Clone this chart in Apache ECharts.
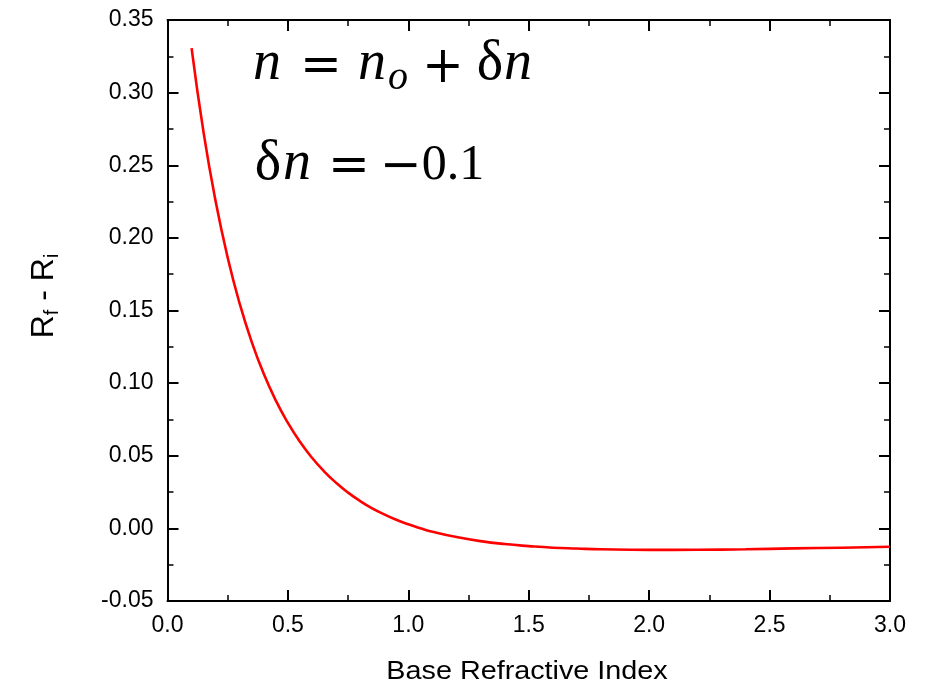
<!DOCTYPE html>
<html><head><meta charset="utf-8">
<script src="https://cdn.jsdelivr.net/npm/echarts@6/dist/echarts.min.js"></script>
<style>html,body{margin:0;padding:0;background:#fff}#c{width:930px;height:683px}</style>
</head><body><div id="c"></div>
<script>
const baseIndex = [0.10,0.15,0.20,0.25,0.30,0.35,0.40,0.45,0.50,0.55,0.60,0.65,0.70,0.75,0.80,0.85,0.90,0.95,1.00,1.05,1.10,1.20,1.30,1.40,1.50,1.60,1.70,1.80,2.00,2.20,2.40,2.60,2.80,3.00];
const deltaR = [0.3306,0.2723,0.2250,0.1863,0.1545,0.1282,0.1062,0.0879,0.0726,0.0596,0.0486,0.0393,0.0314,0.0246,0.0188,0.0138,0.0096,0.0059,0.0028,0.0001,-0.0023,-0.0060,-0.0088,-0.0108,-0.0122,-0.0133,-0.0139,-0.0144,-0.0148,-0.0147,-0.0144,-0.0138,-0.0133,-0.0127];
const xTicks = [0,0.5,1,1.5,2,2.5,3];
const yTicks = [-0.05,0,0.05,0.1,0.15,0.2,0.25,0.3,0.35];
const xTitle = 'Base Refractive Index';
const eq1 = ['n','=','n','o','+','δ','n'];
const eq2 = ['δ','n','=','−','0.1'];

const chart = echarts.init(document.getElementById('c'));
const axisCommon = {
  axisLine:{show:true,onZero:false,lineStyle:{color:'#000',width:2}},
  axisTick:{show:true,inside:true,length:11,lineStyle:{color:'#000',width:2}},
  minorTick:{show:true,splitNumber:2,length:6,lineStyle:{color:'#000',width:1.5}},
  splitLine:{show:false}
};
const serifI = {fontFamily:'Liberation Serif',fontStyle:'italic',fill:'#000'};
const serifU = {fontFamily:'Liberation Serif',fill:'#000'};
const opF = {fontFamily:'DejaVu Serif',fill:'#000'};
function t(txt, x, y, base, size, extra){
  return {type:'text',x:x,y:y,silent:true,
    style:Object.assign({},base,{text:txt,fontSize:size,textAlign:'center',textVerticalAlign:'middle'},extra||{})};
}
chart.setOption({
  animation:false,
  backgroundColor:'#fff',
  grid:{left:167.5,top:20,right:40,bottom:82,containLabel:false},
  xAxis:[
    Object.assign({type:'value',min:xTicks[0],max:xTicks[xTicks.length-1],interval:0.5,position:'bottom',
      axisLabel:{fontFamily:'Liberation Sans',fontSize:23,color:'#000',margin:13,formatter:v=>v.toFixed(1)}},axisCommon),
    Object.assign({type:'value',min:0,max:3,interval:0.5,position:'top',axisLabel:{show:false}},axisCommon)
  ],
  yAxis:[
    Object.assign({type:'value',min:yTicks[0],max:yTicks[yTicks.length-1],interval:0.05,position:'left',
      axisLabel:{fontFamily:'Liberation Sans',fontSize:23,color:'#000',margin:14,formatter:v=>v.toFixed(2)}},axisCommon),
    Object.assign({type:'value',min:-0.05,max:0.35,interval:0.05,position:'right',axisLabel:{show:false}},axisCommon)
  ],
  series:[{
    type:'line',smooth:true,showSymbol:false,
    data:baseIndex.map((x,i)=>[x,deltaR[i]]),
    lineStyle:{color:'#ff0000',width:2.6},
    xAxisIndex:0,yAxisIndex:0
  }],
  graphic:[
    {type:'text',x:527,y:672,scaleX:1.15,silent:true,
      style:{text:xTitle,fontFamily:'Liberation Sans',fontSize:25,fill:'#000',textAlign:'center',textVerticalAlign:'middle'}},
    {type:'text',x:44,y:296,rotation:Math.PI/2,silent:true,
      style:{text:'{m|R}{s|f}{m| - R}{s|i}',textAlign:'center',textVerticalAlign:'middle',
        rich:{m:{fontFamily:'Liberation Sans',fontSize:32,fill:'#000'},
              s:{fontFamily:'Liberation Sans',fontSize:20,fill:'#000',padding:[16,0,0,0]}}}},
    t(eq1[0],267,64,serifI,56),
    t(eq1[1],321,68,opF,50),
    t(eq1[2],372,64,serifI,56),
    t(eq1[3],398,78,serifI,40),
    t(eq1[4],443,69,opF,50),
    t(eq1[5],490,64,serifU,56),
    t(eq1[6],518,64,serifI,56),
    t(eq2[0],268,164,serifU,56),
    t(eq2[1],297,164,serifI,56),
    t(eq2[2],349,168,opF,50),
    t(eq2[3],401,168,opF,50),
    t(eq2[4],453,166,serifU,50)
  ]
});
</script></body></html>
